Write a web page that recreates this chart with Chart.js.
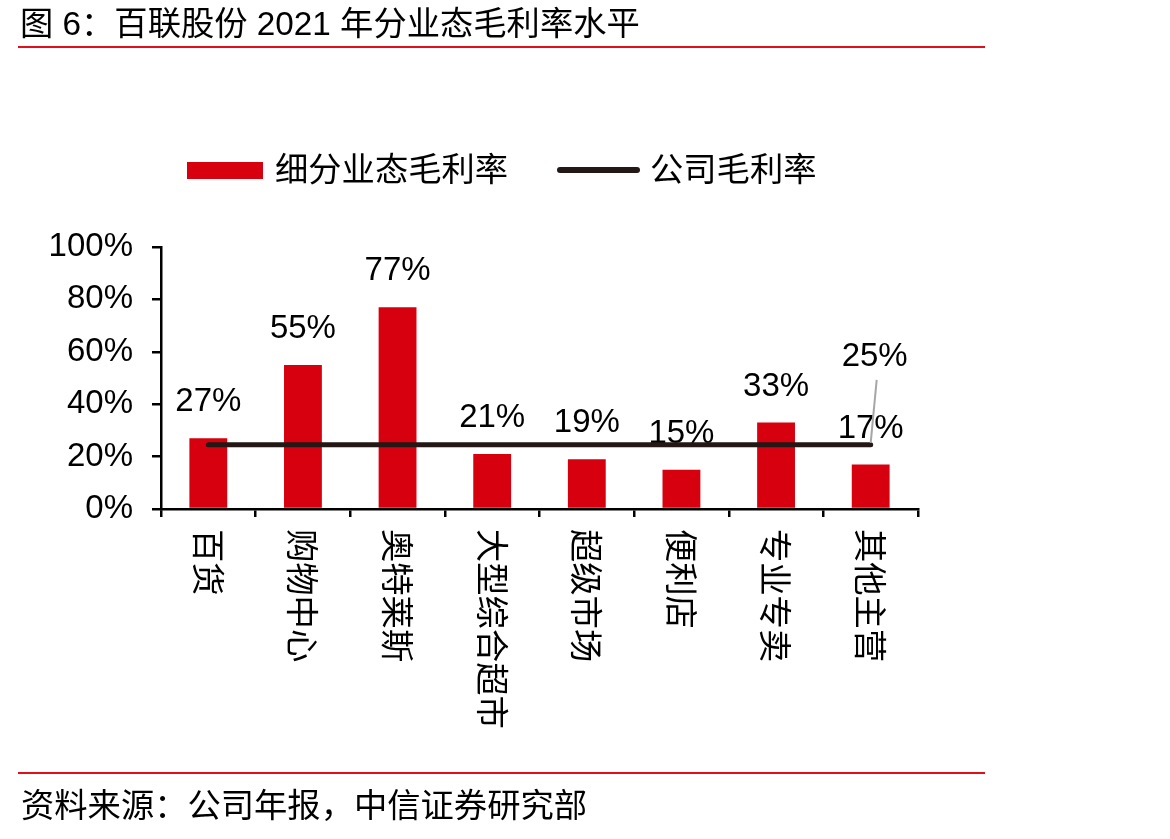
<!DOCTYPE html>
<html>
<head>
<meta charset="utf-8">
<script src="https://cdn.jsdelivr.net/npm/chart.js@4.4.1/dist/chart.umd.min.js"></script>
<style>
  body { margin: 0; background: #fff; }
  .page { position: relative; width: 1170px; height: 839px; overflow: hidden;
          font-family: "Liberation Sans", "Noto Sans CJK SC", sans-serif; color: #000; }
  #chart { position: absolute; left: 0; top: 0; }
  .title { position: absolute; left: 20px; top: 7px; font-size: 33.3px; line-height: 34px; white-space: nowrap; }
  .rule { position: absolute; left: 18px; width: 967px; height: 2px; background: #e0101a; }
  .source { position: absolute; left: 21px; top: 789px; font-size: 33.3px; line-height: 34px; white-space: nowrap; }
  .legend { position: absolute; top: 153px; left: 0; font-size: 33.3px; line-height: 34px; }
  .legend span { position: absolute; white-space: nowrap; }
</style>
</head>
<body>
<div class="page">
  <canvas id="chart" width="1170" height="839"></canvas>
  <div class="title">图 6：百联股份 2021 年分业态毛利率水平</div>
  <div class="rule" style="top:46px"></div>
  <div class="legend">
    <span style="left:187px;top:9px;width:76px;height:17px;background:#d7000f"></span>
    <span style="left:275px;top:0">细分业态毛利率</span>
    <span style="left:557px;top:14px;width:83px;height:6px;border-radius:3px;background:#231815"></span>
    <span style="left:650px;top:0">公司毛利率</span>
  </div>
  <div class="rule" style="top:772px"></div>
  <div class="source">资料来源：公司年报，中信证券研究部</div>
</div>
<script>
// data
const categories = ['百货', '购物中心', '奥特莱斯', '大型综合超市', '超级市场', '便利店', '专业专卖', '其他主营'];
const segmentMargin = [27, 55, 77, 21, 19, 15, 33, 17];
const companyMargin = [24.5, 24.5, 24.5, 24.5, 24.5, 24.5, 24.5, 24.5];
const yMin = 0, yMax = 100, yStep = 20;

const numFont = '33px "Liberation Sans", "Noto Sans CJK SC", sans-serif';
const cjkFont = '33.3px "Noto Sans CJK SC", sans-serif';

// value labels above bars (drawn before the line so the line sits on top)
const barLabels = {
  id: 'barLabels',
  afterDatasetDraw(chart, args) {
    if (args.index !== 0) return;
    const ctx = chart.ctx;
    ctx.save();
    ctx.font = numFont;
    ctx.fillStyle = '#000';
    ctx.textAlign = 'center';
    ctx.textBaseline = 'middle';
    args.meta.data.forEach(function (el, i) {
      ctx.fillText(Math.round(segmentMargin[i]) + '%', el.x, el.y - 36);
    });
    ctx.restore();
  }
};

// company line label with a leader, plus vertical category labels
const extras = {
  id: 'extras',
  afterDatasetsDraw(chart) {
    const ctx = chart.ctx;
    const pts = chart.getDatasetMeta(1).data;
    const last = pts[pts.length - 1];
    ctx.save();
    ctx.strokeStyle = '#a6a6a6';
    ctx.lineWidth = 2;
    ctx.beginPath();
    ctx.moveTo(last.x + 6, last.y - 65);
    ctx.lineTo(last.x, last.y - 2);
    ctx.stroke();
    ctx.font = numFont;
    ctx.fillStyle = '#000';
    ctx.textAlign = 'center';
    ctx.textBaseline = 'middle';
    ctx.fillText(Math.round(companyMargin[companyMargin.length - 1]) + '%', last.x + 4, last.y - 88);

    const xs = chart.scales.x;
    ctx.font = cjkFont;
    ctx.textAlign = 'left';
    categories.forEach(function (c, i) {
      ctx.save();
      ctx.translate(xs.getPixelForValue(i), 529);
      ctx.rotate(Math.PI / 2);
      ctx.fillText(c, 0, 0);
      ctx.restore();
    });
    ctx.restore();
  }
};

const ctx = document.getElementById('chart').getContext('2d');
const marginChart = new Chart(ctx, {
  type: 'bar',
  data: {
    labels: categories,
    datasets: [{
      label: '细分业态毛利率',
      data: segmentMargin,
      backgroundColor: '#d7000f',
      barPercentage: 0.4,
      categoryPercentage: 1,
      order: 2
    }, {
      type: 'line',
      label: '公司毛利率',
      data: companyMargin,
      borderColor: '#231815',
      borderWidth: 5,
      borderCapStyle: 'round',
      pointRadius: 0,
      fill: false,
      order: 1
    }]
  },
  options: {
    responsive: false,
    devicePixelRatio: 1,
    animation: false,
    layout: { padding: { left: 0, top: 247, right: 252, bottom: 0 } },
    plugins: {
      legend: { display: false },
      tooltip: { enabled: false }
    },
    scales: {
      x: {
        ticks: { display: false },
        grid: { offset: true, drawOnChartArea: false, drawTicks: true, tickLength: 8, color: '#000', lineWidth: 2.5 },
        border: { display: true, color: '#000', width: 2.5 },
        afterFit: function (s) { s.height = 839 - 509; }
      },
      y: {
        min: yMin,
        max: yMax,
        ticks: {
          stepSize: yStep,
          padding: 19,
          color: '#000',
          font: { family: '"Liberation Sans", sans-serif', size: 33 },
          callback: function (v) { return v + '%'; }
        },
        grid: { drawOnChartArea: false, drawTicks: true, tickLength: 9, color: '#000', lineWidth: 2.5 },
        border: { display: true, color: '#000', width: 2.5 },
        afterFit: function (s) { s.width = 161; }
      }
    }
  },
  plugins: [barLabels, extras]
});
</script>
</body>
</html>
